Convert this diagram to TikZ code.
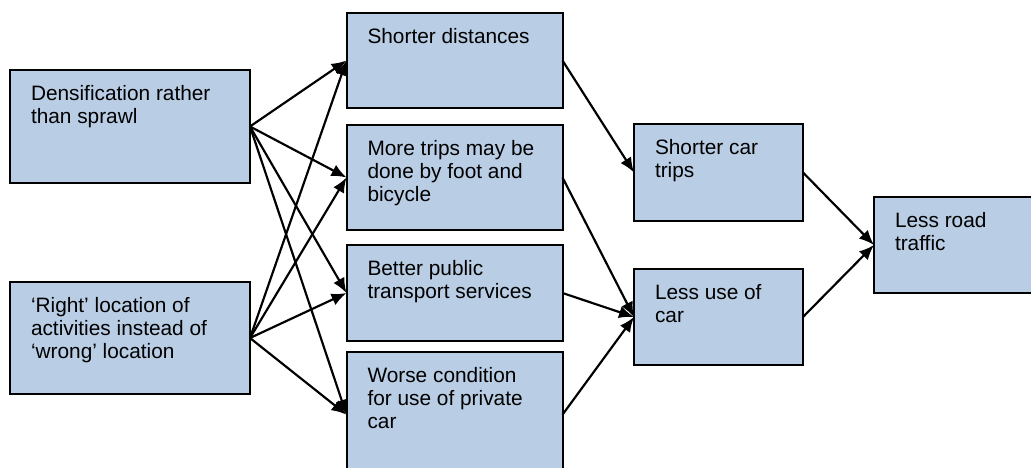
\documentclass[tikz,border=0pt]{standalone}
\usepackage{fontspec}
\setmainfont{Liberation Sans}
\usepackage{tikz}
\usetikzlibrary{shapes,arrows,arrows.meta}
\definecolor{boxblue}{RGB}{185,205,229}
\tikzstyle{block} = [draw, line width=1.2pt, rectangle, fill=boxblue,
    inner sep=0pt, outer sep=0pt]
\newcommand{\boxtxt}[3]{\parbox[c][#2][t]{#1}{\fontsize{12.5}{14}\selectfont
    \raggedright\leftskip=12.6pt\vspace*{9pt}#3}}

\begin{document}
\begin{tikzpicture}[x=0.6pt, y=-0.6pt, >={Latex[length=9pt,width=7.5pt]},
    line width=1.3pt]
          \useasboundingbox (0,0) rectangle (1031,468);
          % Place the blocks
          \node [block] (dens) at (130,126.5)
              {\boxtxt{144pt}{67.8pt}{Densification rather\\than sprawl}};
          \node [block, below of=dens, node distance=126.9pt] (loc)
              {\boxtxt{144pt}{67.2pt}{‘Right’ location of\\activities instead of\\‘wrong’ location}};
          \node [block] (short) at (454.5,60.5)
              {\boxtxt{129.6pt}{57pt}{Shorter distances}};
          \node [block, below of=short, node distance=70.2pt] (trips)
              {\boxtxt{129.6pt}{63pt}{More trips may be\\done by foot and\\bicycle}};
          \node [block, below of=trips, node distance=69.3pt] (public)
              {\boxtxt{129.6pt}{57.6pt}{Better public\\transport services}};
          \node [block, below of=public, node distance=73pt] (worse)
              {\boxtxt{129.6pt}{75pt}{Worse condition\\for use of private\\car}};
          \node [block] (cartrips) at (718.5,172.5)
              {\boxtxt{101.4pt}{58.2pt}{Shorter car\\trips}};
          \node [block, below of=cartrips, node distance=86.7pt] (lessuse)
              {\boxtxt{101.4pt}{57.6pt}{Less use of\\car}};
          \node [block] (traffic) at (954,245)
              {\boxtxt{96pt}{57.6pt}{Less road\\traffic}};

          % Connections
          \foreach \src in {dens,loc}
              \foreach \dst in {short,trips,public,worse}
                  \draw [->] (\src.east) -- (\dst.west);
          \draw [->] (short.east) -- (cartrips.west);
          \foreach \src in {trips,public,worse}
              \draw [->] (\src.east) -- (lessuse.west);
          \draw [->] (cartrips.east) -- (traffic.west);
          \draw [->] (lessuse.east) -- (traffic.west);
      \end{tikzpicture}
\end{document}
